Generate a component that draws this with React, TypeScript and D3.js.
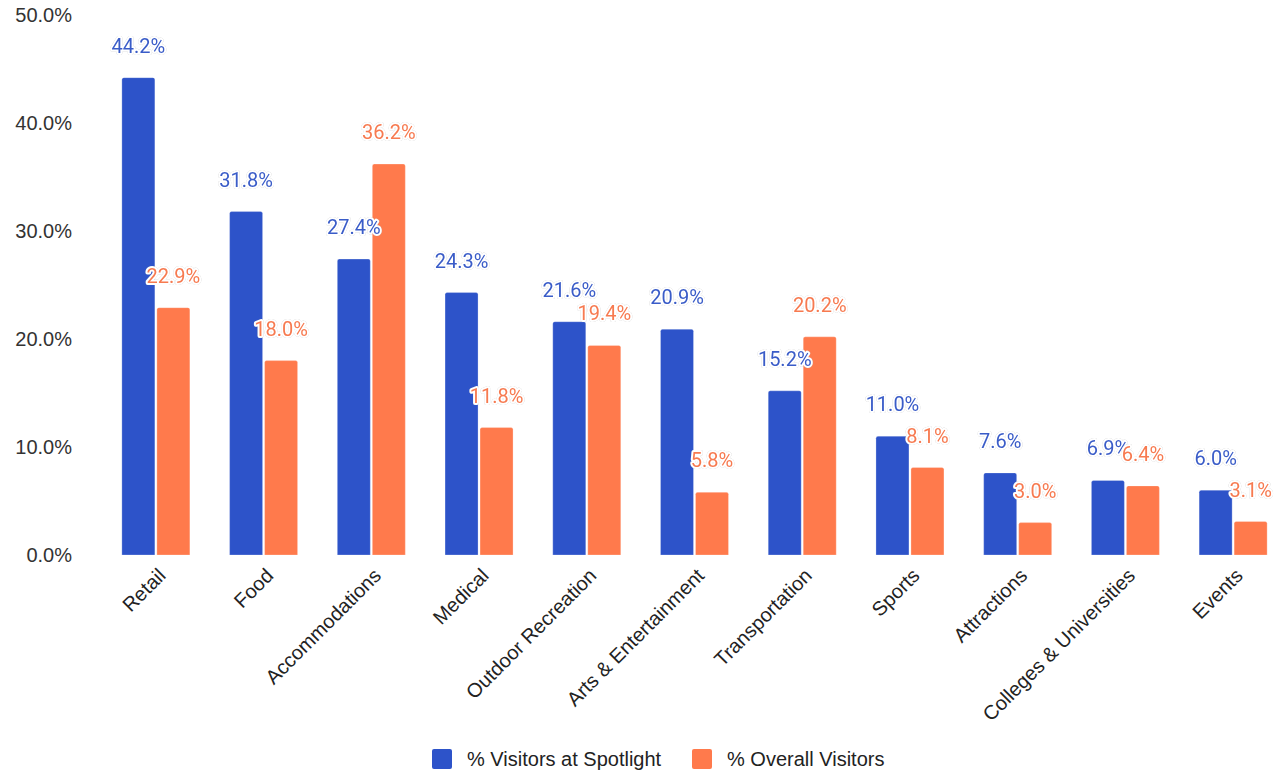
import React from "react";
import * as d3 from "d3";

const categories = ["Retail", "Food", "Accommodations", "Medical", "Outdoor Recreation", "Arts & Entertainment", "Transportation", "Sports", "Attractions", "Colleges & Universities", "Events"];
const spotlight = [44.2, 31.8, 27.4, 24.3, 21.6, 20.9, 15.2, 11.0, 7.6, 6.9, 6.0];
const overall = [22.9, 18.0, 36.2, 11.8, 19.4, 5.8, 20.2, 8.1, 3.0, 6.4, 3.1];
const yTicks = [0, 10, 20, 30, 40, 50];
const seriesNames = ["% Visitors at Spotlight", "% Overall Visitors"];
const colors = ["#2D53C9", "#FF7A4C"];
const labelColors = ["#3A5CC8", "#F77A50"];

const W = 1285, H = 770;

export default function App() {
  const x = d3.scaleBand<string>().domain(categories).range([102, 1287]).paddingInner(0).paddingOuter(0);
  const y = d3.scaleLinear().domain([0, 50]).range([555, 15]);
  const barW = 33;
  const gap = 2;
  const series = [spotlight, overall];
  const font = "'Liberation Sans', Arial, sans-serif";
  const labelFont = "Roboto, Arial, sans-serif";

  const roundTopRect = (x0: number, y0: number, w: number, h: number, r: number) => {
    const p = d3.path();
    p.moveTo(x0, y0 + h);
    p.lineTo(x0, y0 + r);
    p.quadraticCurveTo(x0, y0, x0 + r, y0);
    p.lineTo(x0 + w - r, y0);
    p.quadraticCurveTo(x0 + w, y0, x0 + w, y0 + r);
    p.lineTo(x0 + w, y0 + h);
    p.closePath();
    return p.toString();
  };

  return (
    <svg width={W} height={H} style={{ position: "absolute", left: 0, top: 0, background: "#fff" }} fontFamily={font}>
      {yTicks.map((t) => (
        <text key={t} x={72} y={y(t)} dy="0.35em" textAnchor="end" fontSize={20} fill="#333">
          {t.toFixed(1) + "%"}
        </text>
      ))}
      {categories.map((c, i) => {
        const cx = (x(c) as number) + x.bandwidth() / 2;
        return (
          <g key={c}>
            {series.map((s, k) => {
              const x0 = k === 0 ? cx - gap / 2 - barW : cx + gap / 2;
              const yt = y(s[i]);
              return (
                <path key={k} d={roundTopRect(x0, yt, barW, y(0) - yt, 2)} fill={colors[k]} stroke="#ffffff" strokeOpacity={0.5} strokeWidth={0.5} />
              );
            })}
            {series.map((s, k) => {
              const x0 = k === 0 ? cx - gap / 2 - barW : cx + gap / 2;
              const yt = y(s[i]);
              return (
                <text key={"l" + k} x={x0 + barW / 2} y={yt - 25} textAnchor="middle" fontSize={20} fontFamily={labelFont}
                  fill={labelColors[k]} stroke="#fff" strokeWidth={4} strokeLinejoin="round" paintOrder="stroke"
                  style={{ filter: "drop-shadow(0 0 0.6px rgba(0,0,0,0.25))" }}>
                  {s[i].toFixed(1) + "%"}
                </text>
              );
            })}
            <text transform={`translate(${cx + 6},${572}) rotate(-45)`} textAnchor="end" dy="0.35em" fontSize={20} fill="#222">
              {c}
            </text>
          </g>
        );
      })}
      <g transform="translate(432,749)">
        <rect x={0} y={0} width={20} height={20} rx={2} fill={colors[0]} />
        <text x={35} y={10} dy="0.35em" fontSize={20} fill="#222">{seriesNames[0]}</text>
        <rect x={260} y={0} width={20} height={20} rx={2} fill={colors[1]} />
        <text x={295} y={10} dy="0.35em" fontSize={20} fill="#222">{seriesNames[1]}</text>
      </g>
    </svg>
  );
}
